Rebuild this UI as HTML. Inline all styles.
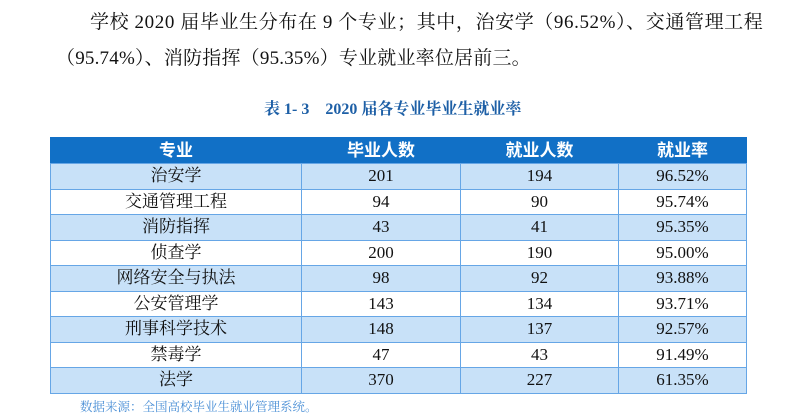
<!DOCTYPE html>
<html><head><meta charset="utf-8"><style>
body{margin:0;width:791px;height:419px;background:#fff;position:relative;overflow:hidden;font-family:"Liberation Serif","Noto Serif CJK SC",serif;}
.t{position:absolute;white-space:nowrap;color:#111;font-size:19px;}
table{position:absolute;left:50px;top:137px;border-collapse:collapse;font-size:17px;}
td,th{border:1.5px solid #66a6e6;text-align:center;padding:0;height:24px;line-height:24px;color:#111;font-weight:normal;}
td{height:24.5px;}
th{background:#1170c6;color:#fff;font-family:"Liberation Sans","Noto Sans CJK SC",sans-serif;font-weight:bold;height:25px;border-color:#1170c6;border-bottom-color:#66a6e6;}
tr.b td{background:#c8e1f8;}
</style></head><body>
<div class="t" style="left:90px;top:7px;letter-spacing:0.6px;">学校 2020 届毕业生分布在 9 个专业；其中，治安学（96.52%）、交通管理工程</div>
<div class="t" style="left:56px;top:43px;letter-spacing:0.2px;">（95.74%）、消防指挥（95.35%）专业就业率位居前三。</div>
<div class="t" style="left:264px;top:96px;font-size:16px;font-weight:bold;color:#1d5fa6;">表 1- 3　2020 届各专业毕业生就业率</div>
<table>
<tr><th style="width:250px">专业</th><th style="width:158px">毕业人数</th><th style="width:157px">就业人数</th><th style="width:127px">就业率</th></tr>
<tr class="b"><td>治安学</td><td>201</td><td>194</td><td>96.52%</td></tr>
<tr><td>交通管理工程</td><td>94</td><td>90</td><td>95.74%</td></tr>
<tr class="b"><td>消防指挥</td><td>43</td><td>41</td><td>95.35%</td></tr>
<tr><td>侦查学</td><td>200</td><td>190</td><td>95.00%</td></tr>
<tr class="b"><td>网络安全与执法</td><td>98</td><td>92</td><td>93.88%</td></tr>
<tr><td>公安管理学</td><td>143</td><td>134</td><td>93.71%</td></tr>
<tr class="b"><td>刑事科学技术</td><td>148</td><td>137</td><td>92.57%</td></tr>
<tr><td>禁毒学</td><td>47</td><td>43</td><td>91.49%</td></tr>
<tr class="b"><td>法学</td><td>370</td><td>227</td><td>61.35%</td></tr>
</table>
<div class="t" style="left:80px;top:397px;font-size:12.5px;color:#4a8fd6;">数据来源：全国高校毕业生就业管理系统。</div>
</body></html>
